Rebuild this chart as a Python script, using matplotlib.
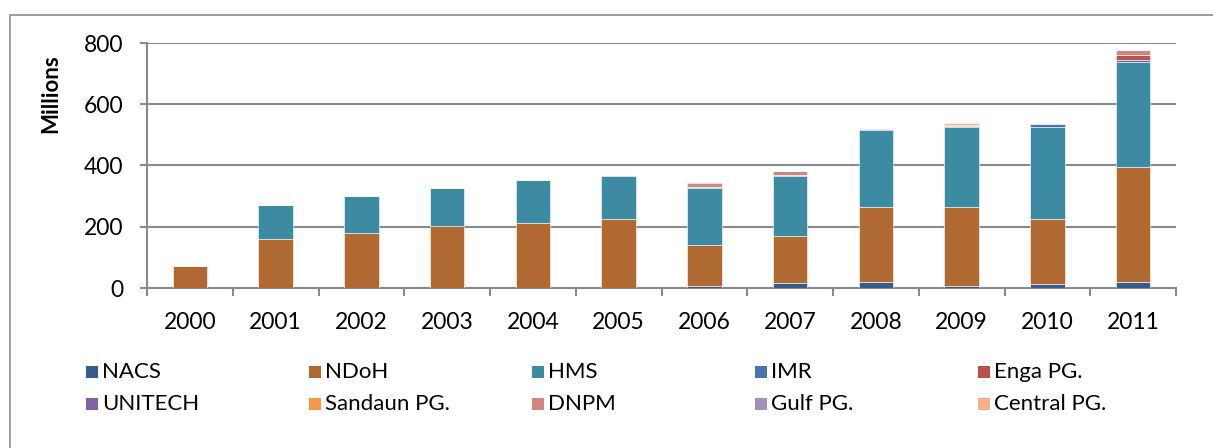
import numpy as np
import matplotlib
matplotlib.use("Agg")
import matplotlib.pyplot as plt
from matplotlib.patches import Rectangle

plt.rcParams['font.family'] = ['Lato', 'DejaVu Sans']

years = ['2000', '2001', '2002', '2003', '2004', '2005',
         '2006', '2007', '2008', '2009', '2010', '2011']

# values in millions, one list per funding source (stack order bottom -> top)
nacs    = [0, 0, 0, 0, 0, 0, 6, 15, 21, 7, 12, 21]
ndoh    = [72, 159, 180, 202, 212, 225, 135, 156, 245, 256, 212, 374]
hms     = [0, 111, 122, 123, 140, 140, 187, 196, 250, 263, 302, 343]
imr     = [0, 0, 0, 0, 0, 0, 3, 3, 4, 4, 8, 7]
enga    = [0, 0, 0, 0, 0, 0, 0, 0, 0, 0, 0, 17]
unitech = [0, 0, 0, 0, 0, 3, 0, 0, 0, 0, 0, 0]
sandaun = [0, 0, 0, 0, 0, 0, 0, 0, 0, 0, 0, 0]
dnpm    = [0, 0, 0, 0, 0, 0, 13, 11, 2, 0, 4, 15]
gulf    = [0, 0, 0, 0, 0, 0, 3, 0, 0, 3, 0, 0]
central = [0, 0, 0, 0, 0, 0, 0, 0, 1, 7, 2, 0]

series = [('NACS', nacs, '#365C8C'),
          ('NDoH', ndoh, '#B06A31'),
          ('HMS', hms, '#3D8BA3'),
          ('IMR', imr, '#4A76B0'),
          ('Enga PG.', enga, '#C0504D'),
          ('UNITECH', unitech, '#8064A2'),
          ('Sandaun PG.', sandaun, '#F79646'),
          ('DNPM', dnpm, '#CF8680'),
          ('Gulf PG.', gulf, '#A290BB'),
          ('Central PG.', central, '#F9B08A')]

W, H = 1213, 448
fig = plt.figure(figsize=(W / 100, H / 100), dpi=100)

# outer chart border (top and left visible)
fig.patches.append(Rectangle((10 / W, -0.1), 1.2, 1 - 15 / H + 0.1,
                             transform=fig.transFigure, fill=False,
                             edgecolor='#8c8c8c', linewidth=1.2))

ax = fig.add_axes([147 / W, 1 - 288 / H, (1176 - 147) / W, (288 - 43) / H])

x = np.arange(len(years))
bottom = np.zeros(len(years))
for name, vals, col in series:
    ax.bar(x, vals, 0.4, bottom=bottom, color=col, edgecolor='#ffffff',
           linewidth=0.4, zorder=3)
    bottom += np.array(vals)

grid_col = '#8a8a8a'
ax.set_ylim(0, 800)
ax.set_xlim(-0.5, len(years) - 0.5)
ax.set_yticks([0, 200, 400, 600, 800])
ax.yaxis.grid(True, color=grid_col, linewidth=1.5, zorder=0)
ax.set_axisbelow(True)
for s in ['top', 'right']:
    ax.spines[s].set_visible(False)
for s in ['left', 'bottom']:
    ax.spines[s].set_color(grid_col)
    ax.spines[s].set_linewidth(1.5)

ax.set_xticks(x)
ax.set_xticklabels(years)
ax.set_xticks(np.arange(-0.5, len(years)), minor=True)
ax.tick_params(axis='x', which='major', length=0, pad=17, labelsize=16.5)
ax.tick_params(axis='x', which='minor', length=6, width=1.5, color=grid_col)
ax.tick_params(axis='y', length=5, width=1.5, color=grid_col, pad=12,
               labelsize=16.5)

fig.text(51 / W, 1 - 94 / H, 'Millions', rotation=90, ha='center',
         va='center', fontsize=16, fontweight='bold')

# legend laid out in a 5 x 2 grid like the original
for i, (name, vals, col) in enumerate(series):
    c, r = i % 5, i // 5
    lx = 86 + 223 * c
    ly = 372 + 32 * r
    fig.patches.append(Rectangle((lx / W, 1 - (ly + 6) / H), 12 / W, 12 / H,
                                 transform=fig.transFigure, facecolor=col,
                                 edgecolor='none'))
    fig.text((lx + 16) / W, 1 - ly / H, name, ha='left', va='center',
             fontsize=16)

fig.savefig('out.png', dpi=100)
